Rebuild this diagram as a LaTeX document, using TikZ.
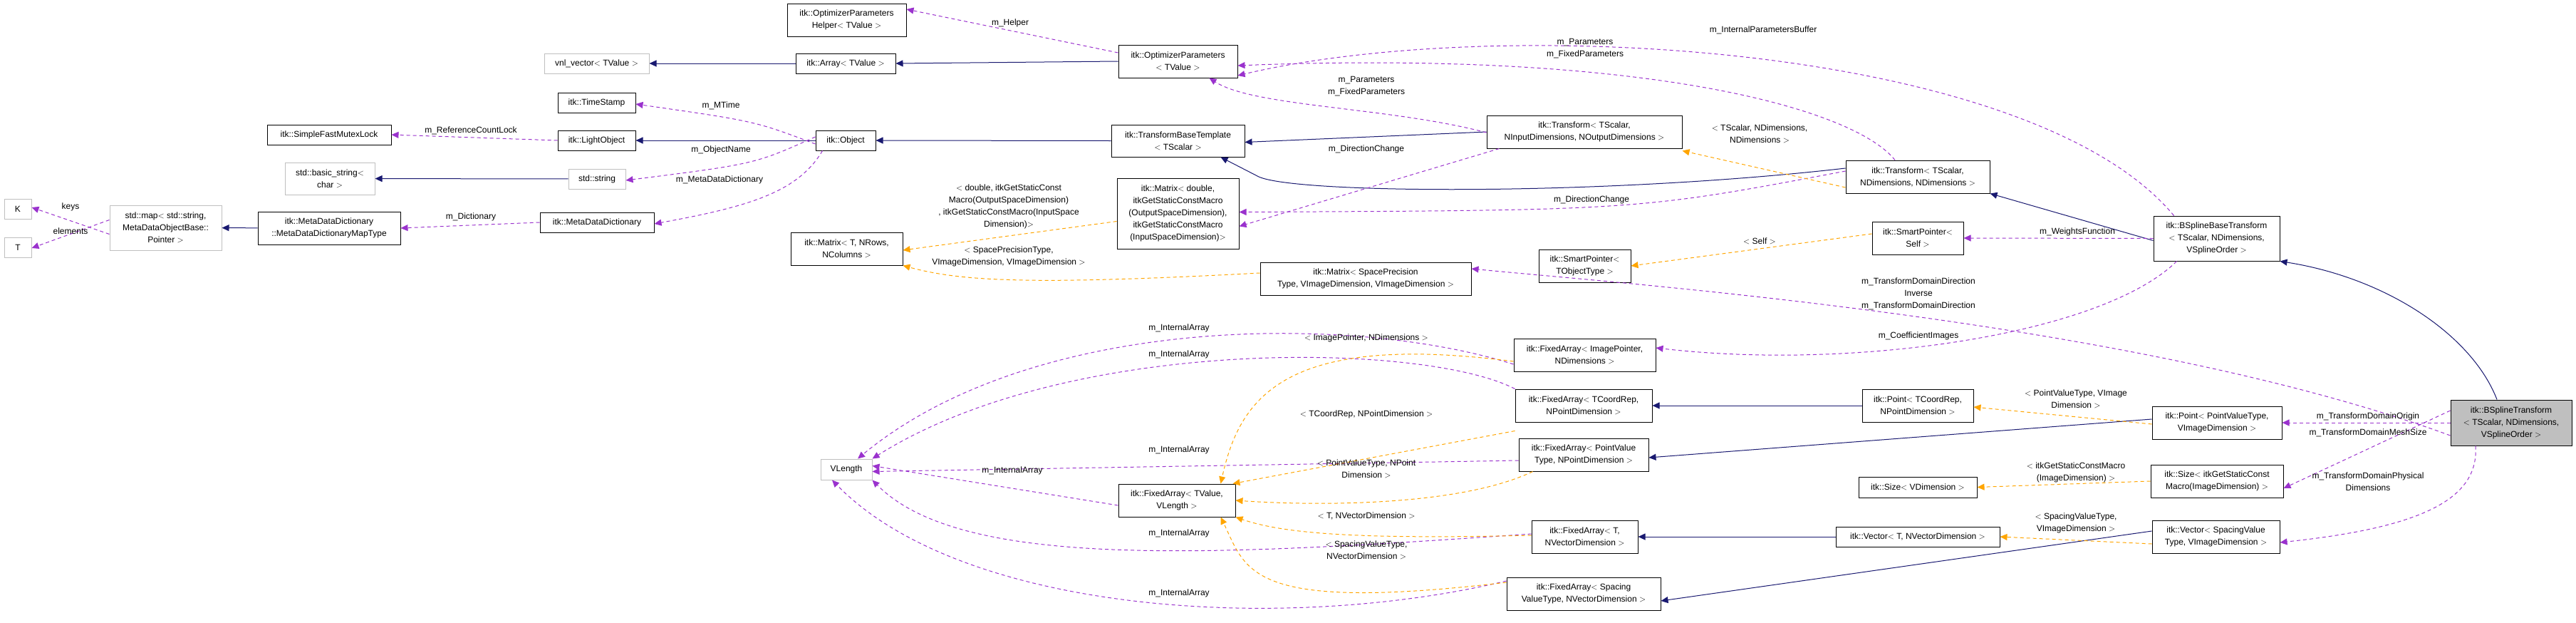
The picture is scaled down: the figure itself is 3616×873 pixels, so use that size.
\documentclass[tikz,border=0pt]{standalone}
\usepackage{fontspec}
\setmainfont{Liberation Sans}
\usetikzlibrary{arrows.meta}
\definecolor{inh}{HTML}{191970}
\definecolor{use}{HTML}{9A32CD}
\definecolor{tpl}{HTML}{FFA500}
\newcommand\bx[7]{\node[box,#7,minimum width={(#4-#2)*1pt},minimum height={(#5-#3)*1pt}] (#1) at ({(#2+#4)/2},{(#3+#5)/2}) {#6};}
\begin{document}
\begin{tikzpicture}[x=1pt,y=-1pt,
 box/.style={draw=black,line width=1pt,fill=white,inner sep=0pt,align=center,font=\fontsize{12}{17}\selectfont},
 ext/.style={draw=black!25},
 main/.style={fill=black!25},
 lbl/.style={inner sep=0pt,align=center,font=\fontsize{12}{17}\selectfont},
 ih/.style={draw=inh,line width=1pt,-{Triangle[length=10pt,width=9pt]}},
 us/.style={draw=use,line width=1pt,dash pattern=on 5pt off 4pt,-{Triangle[length=10pt,width=9pt]}},
 tp/.style={draw=tpl,line width=1pt,dash pattern=on 5pt off 4pt,-{Triangle[length=10pt,width=9pt]}}]
\useasboundingbox (0,0) rectangle (3616,873);
% nodes
\bx{vnl}{764}{75}{911}{103}{vnl\_vector$<$ TValue $>$}{ext}
\bx{ts}{783}{130}{892}{158}{itk::TimeStamp}{}
\bx{mutex}{375}{175}{549}{203}{itk::SimpleFastMutexLock}{}
\bx{lo}{783}{183}{892}{211}{itk::LightObject}{}
\bx{bstr}{400}{228}{526}{273}{std::basic\_string$<$\\char $>$}{ext}
\bx{str}{798}{237}{878}{265}{std::string}{ext}
\bx{K}{6}{279}{44}{307}{K}{ext}
\bx{T}{6}{333}{44}{361}{T}{ext}
\bx{map}{154}{288}{311}{351}{std::map$<$ std::string,\\MetaDataObjectBase::\\Pointer $>$}{ext}
\bx{mtype}{362}{297}{562}{343}{itk::MetaDataDictionary\\::MetaDataDictionaryMapType}{}
\bx{mdd}{758}{298}{918}{326}{itk::MetaDataDictionary}{}
\bx{help}{1105}{5}{1272}{51}{itk::OptimizerParameters\\Helper$<$ TValue $>$}{}
\bx{arr}{1117}{75}{1257}{103}{itk::Array$<$ TValue $>$}{}
\bx{op}{1570}{63}{1737}{109}{itk::OptimizerParameters\\$<$ TValue $>$}{}
\bx{obj}{1145}{183}{1229}{211}{itk::Object}{}
\bx{tbt}{1560}{175}{1747}{220}{itk::TransformBaseTemplate\\$<$ TScalar $>$}{}
\bx{trin}{2087}{162}{2361}{208}{itk::Transform$<$ TScalar,\\NInputDimensions, NOutputDimensions $>$}{}
\bx{mdbl}{1568}{250}{1739}{349}{itk::Matrix$<$ double,\\itkGetStaticConstMacro\\(OutputSpaceDimension),\\itkGetStaticConstMacro\\(InputSpaceDimension)$>$}{}
\bx{mtr}{1110}{326}{1267}{372}{itk::Matrix$<$ T, NRows,\\NColumns $>$}{}
\bx{msp}{1769}{368}{2065}{414}{itk::Matrix$<$ SpacePrecision\\Type, VImageDimension, VImageDimension $>$}{}
\bx{spT}{2160}{350}{2289}{396}{itk::SmartPointer$<$\\TObjectType $>$}{}
\bx{trnd}{2591}{225}{2793}{271}{itk::Transform$<$ TScalar,\\NDimensions, NDimensions $>$}{}
\bx{spS}{2628}{311}{2756}{357}{itk::SmartPointer$<$\\Self $>$}{}
\bx{bsb}{3023}{303}{3200}{366}{itk::BSplineBaseTransform\\$<$ TScalar, NDimensions,\\VSplineOrder $>$}{}
\bx{faip}{2125}{475}{2324}{521}{itk::FixedArray$<$ ImagePointer,\\NDimensions $>$}{}
\bx{facr}{2127}{546}{2319}{592}{itk::FixedArray$<$ TCoordRep,\\NPointDimension $>$}{}
\bx{fapv}{2132}{615}{2314}{661}{itk::FixedArray$<$ PointValue\\Type, NPointDimension $>$}{}
\bx{vlen}{1152}{644}{1224}{673}{VLength}{ext}
\bx{fatv}{1570}{679}{1734}{725}{itk::FixedArray$<$ TValue,\\VLength $>$}{}
\bx{fat}{2150}{730}{2299}{776}{itk::FixedArray$<$ T,\\NVectorDimension $>$}{}
\bx{fasp}{2115}{810}{2331}{856}{itk::FixedArray$<$ Spacing\\ValueType, NVectorDimension $>$}{}
\bx{ptcr}{2614}{546}{2770}{592}{itk::Point$<$ TCoordRep,\\NPointDimension $>$}{}
\bx{ptpv}{3021}{570}{3203}{616}{itk::Point$<$ PointValueType,\\VImageDimension $>$}{}
\bx{bst}{3440}{561}{3610}{625}{itk::BSplineTransform\\$<$ TScalar, NDimensions,\\VSplineOrder $>$}{main}
\bx{szv}{2609}{669}{2775}{698}{itk::Size$<$ VDimension $>$}{}
\bx{szi}{3019}{652}{3205}{698}{itk::Size$<$ itkGetStaticConst\\Macro(ImageDimension) $>$}{}
\bx{vect}{2577}{739}{2807}{767}{itk::Vector$<$ T, NVectorDimension $>$}{}
\bx{vecs}{3021}{730}{3200}{776}{itk::Vector$<$ SpacingValue\\Type, VImageDimension $>$}{}
% inheritance
\draw[ih] (arr) -- (vnl);
\draw[ih] (op.west) -- (arr.east);
\draw[ih] (obj) -- (lo);
\draw[ih] (str) -- (bstr);
\draw[ih] (mtype) -- (map);
\draw[ih] (tbt.west) -- (obj.east);
\draw[ih] (trin.west) -- ([yshift=-2pt]tbt.east);
\draw[ih] ([yshift=12pt]trnd.west) .. controls (2250,275) and (1820,272) .. (1767,248) -- ([xshift=-34pt]tbt.south east);
\draw[ih] ([yshift=-3pt]bsb.west) -- (trnd.south east);
\draw[ih] ([xshift=-20pt]bst.north) .. controls (3470,470) and (3350,390) .. (bsb.south east);
\draw[ih] (ptcr.west) -- (facr.east);
\draw[ih] ([yshift=5pt]ptpv.west) -- ([yshift=-4pt]fapv.east);
\draw[ih] (vect.west) -- (fat.east);
\draw[ih] ([yshift=8pt]vecs.west) -- ([yshift=-10pt]fasp.east);
% usage
\draw[us] (lo.west) -- (mutex.east); \node[lbl] (l1) at (661,183) {m\_ReferenceCountLock};
\draw[us] ([yshift=-5pt]obj.west) .. controls (1060,170) .. ([yshift=-2pt]ts.east); \node[lbl] (l2) at (1012,148) {m\_MTime};
\draw[us] ([yshift=5pt]obj.west) .. controls (1060,230) .. ([yshift=-2pt]str.east); \node[lbl] (l3) at (1012,210) {m\_ObjectName};
\draw[us] ([xshift=10pt]obj.south west) .. controls (1120,270) and (1050,290) .. ([yshift=-2pt]mdd.east); \node[lbl] (l4) at (1010,252) {m\_MetaDataDictionary};
\draw[us] (mdd.west) -- (mtype.east); \node[lbl] (l5) at (661,304) {m\_Dictionary};
\draw[us] ([yshift=-9pt]map.west) -- ([yshift=2pt]K.east); \node[lbl] (l6) at (99,290) {keys};
\draw[us] ([yshift=11pt]map.west) -- ([yshift=-1pt]T.east); \node[lbl] (l7) at (99,324) {elements};
\draw[us] ([yshift=12pt]op.west) -- ([yshift=15pt]help.east); \node[lbl] (l8) at (1418,32) {m\_Helper};
\draw[us] ([yshift=-1pt]trin.west) .. controls (1950,150) and (1760,150) .. ([xshift=-40pt]op.south east); \node[lbl] (l9) at (1918,121) {m\_Parameters\\m\_FixedParameters};
\draw[us] ([xshift=-32pt]trnd.north) .. controls (2600,150) and (2300,70) .. ([yshift=-6pt]op.east); \node[lbl] (l10) at (2225,68) {m\_Parameters\\m\_FixedParameters};
\draw[us] ([xshift=-60pt]bsb.north) .. controls (2850,60) and (2100,20) .. ([yshift=-20pt]op.east); \node[lbl] (l11) at (2475,42) {m\_InternalParametersBuffer};
\draw[us] ([xshift=18pt]trin.south west) -- ([yshift=-18pt]mdbl.east); \node[lbl] (l12) at (1918,209) {m\_DirectionChange};
\draw[us] ([yshift=8pt]trnd.west) .. controls (2300,295) .. ([yshift=2pt]mdbl.east); \node[lbl] (l13) at (2234,280) {m\_DirectionChange};
\draw[us] (bsb.west) -- (spS.east); \node[lbl] (lw) at (2916,325) {m\_WeightsFunction};
\draw[us] ([yshift=-18pt]bst.west) .. controls (3000,450) and (2300,400) .. ([yshift=14pt]msp.east); \node[lbl] (l14) at (2693,412) {m\_TransformDomainDirection\\Inverse\\m\_TransformDomainDirection};
\draw[us] ([xshift=-56pt]bsb.south) .. controls (2950,470) and (2600,520) .. ([yshift=10pt]faip.east); \node[lbl] (l15) at (2693,471) {m\_CoefficientImages};
\draw[us] (bst.west |- ptpv.east) -- (ptpv.east); \node[lbl] (l16) at (3324,584) {m\_TransformDomainOrigin};
\draw[us] ([yshift=17pt]bst.west) -- ([yshift=-10pt]szi.east); \node[lbl] (l17) at (3324,607) {m\_TransformDomainMeshSize};
\draw[us] ([xshift=-50pt]bst.south) .. controls (3480,700) and (3400,740) .. ([yshift=-8pt]vecs.east); \node[lbl] (l18) at (3324,676) {m\_TransformDomainPhysical\\Dimensions};
\draw[us] ([yshift=-13pt]faip.west) .. controls (1900,440) and (1450,440) .. ([xshift=16pt]vlen.north); \node[lbl] (l19) at (1655,460) {m\_InternalArray};
\draw[us] (facr.north west) .. controls (2000,480) and (1500,470) .. (vlen.north east); \node[lbl] (l20) at (1655,497) {m\_InternalArray};
\draw[us] ([yshift=-8pt]fapv.west) -- ([yshift=-3pt]vlen.east); \node[lbl] (l21) at (1655,631) {m\_InternalArray};
\draw[us] ([yshift=-7pt]fatv.west) -- ([yshift=5pt]vlen.east); \node[lbl] (l22) at (1421,660) {m\_InternalArray};
\draw[us] ([yshift=4pt]fat.west) .. controls (1700,780) and (1350,800) .. (vlen.south east); \node[lbl] (l23) at (1655,748) {m\_InternalArray};
\draw[us] ([yshift=18pt]fasp.west) .. controls (1800,890) and (1350,860) .. ([xshift=-20pt]vlen.south); \node[lbl] (l24) at (1655,832) {m\_InternalArray};
% template
\draw[tp] ([yshift=-11pt]mdbl.west) -- ([yshift=-2pt]mtr.east); \node[lbl] (t1) at (1416,290) {$<$ double, itkGetStaticConst\\Macro(OutputSpaceDimension)\\, itkGetStaticConstMacro(InputSpace\\Dimension)$>$};
\draw[tp] ([yshift=8pt]msp.west) .. controls (1450,400) and (1350,395) .. (mtr.south east); \node[lbl] (t2) at (1416,360) {$<$ SpacePrecisionType,\\VImageDimension, VImageDimension $>$};
\draw[tp] ([yshift=-15pt]trnd.west) -- ([yshift=-3pt]trin.south east); \node[lbl] (t3) at (2470,188) {$<$ TScalar, NDimensions,\\NDimensions $>$};
\draw[tp] ([yshift=6pt]spS.west) -- (spT.east); \node[lbl] (t4) at (2470,338) {$<$ Self $>$};
\draw[tp] ([yshift=-9pt]faip.west) .. controls (1800,465) and (1740,560) .. ([xshift=-21pt]fatv.north east); \node[lbl] (t5) at (1918,474) {$<$ ImagePointer, NDimensions $>$};
\draw[tp] ([yshift=-12pt]facr.south west) -- ([xshift=-4pt]fatv.north east); \node[lbl] (t6) at (1918,581) {$<$ TCoordRep, NPointDimension $>$};
\draw[tp] ([xshift=20pt]fapv.south west) .. controls (2050,710) and (1850,710) .. (fatv.east); \node[lbl] (t7) at (1918,658) {$<$ PointValueType, NPoint\\Dimension $>$};
\draw[tp] ([yshift=2pt]fat.west) .. controls (1900,757) and (1800,748) .. (fatv.south east); \node[lbl] (t8) at (1918,724) {$<$ T, NVectorDimension $>$};
\draw[tp] ([yshift=16pt]fasp.west) .. controls (1750,860) and (1750,800) .. ([xshift=-21pt]fatv.south east); \node[lbl] (t9) at (1918,772) {$<$ SpacingValueType,\\NVectorDimension $>$};
\draw[tp] ([yshift=-2pt]ptpv.west) -- ([yshift=-2pt]ptcr.east); \node[lbl] (t10) at (2914,560) {$<$ PointValueType, VImage\\Dimension $>$};
\draw[tp] (szi.west) -- (szv.east); \node[lbl] (t11) at (2914,663) {$<$ itkGetStaticConstMacro\\(ImageDimension) $>$};
\draw[tp] ([yshift=-10pt]vecs.west) -- (vect.east); \node[lbl] (t12) at (2914,734) {$<$ SpacingValueType,\\VImageDimension $>$};
\end{tikzpicture}
\end{document}
